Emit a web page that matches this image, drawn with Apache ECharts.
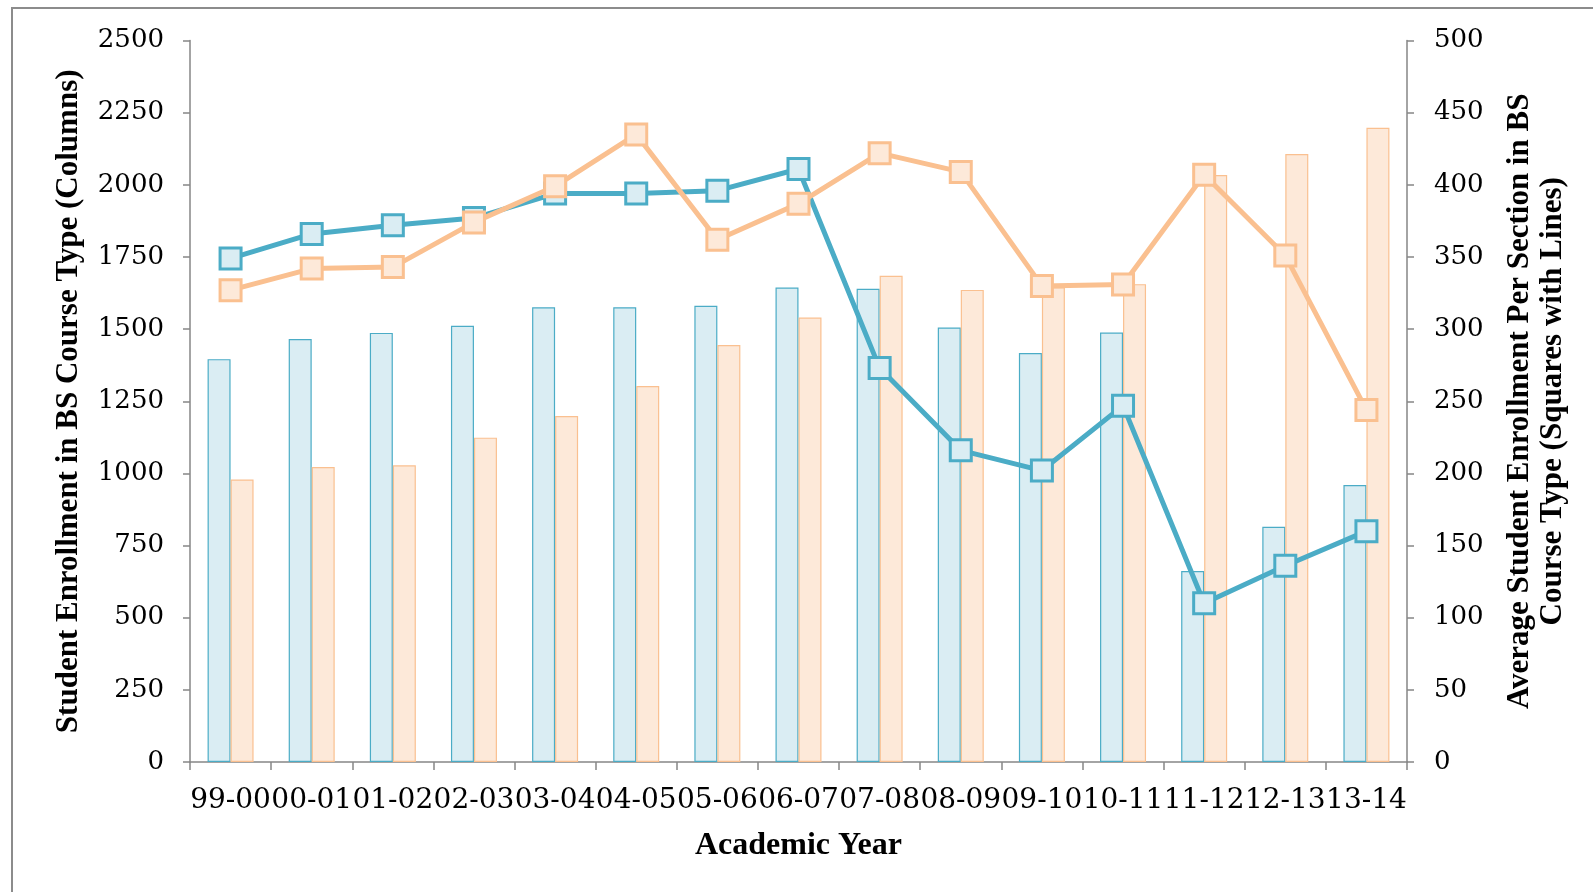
<!DOCTYPE html>
<html>
<head>
<meta charset="utf-8">
<script src="https://cdn.jsdelivr.net/npm/echarts@6/dist/echarts.min.js"></script>
<style>
  html, body { margin: 0; padding: 0; background: #fff; }
  #chart { width: 1593px; height: 892px; }
</style>
</head>
<body>
<div id="chart"></div>
<script>
// Academic years on the category axis
const years = ['99-00', '00-01', '01-02', '02-03', '03-04', '04-05', '05-06', '06-07',
               '07-08', '08-09', '09-10', '10-11', '11-12', '12-13', '13-14'];

// Student enrollment per course type (columns, left axis)
const enrollBlue   = [1396, 1466, 1487, 1512, 1576, 1576, 1581, 1644, 1640, 1506, 1417, 1488, 662, 815, 960];
const enrollOrange = [979, 1022, 1028, 1124, 1199, 1303, 1445, 1540, 1685, 1636, 1645, 1656, 2034, 2107, 2198];

// Average enrollment per section (squares with lines, right axis)
const perSectionBlue   = [349, 366, 372, 377, 394, 394, 396, 411, 273, 216, 202, 247, 110, 136, 160];
const perSectionOrange = [327, 342, 343, 374, 399, 435, 362, 387, 422, 409, 330, 331, 407, 351, 244];

// Axis scales
const leftMax = 2500, leftStep = 250;
const rightMax = 500, rightStep = 50;

const blueLine = '#4bacc6', blueFill = '#daedf3';
const orangeLine = '#fac090', orangeFill = '#fde9d9';
const axisGray = '#868686';
const serif = '"DejaVu Serif", "Liberation Serif", serif';
const titleFont = '"Liberation Serif", "DejaVu Serif", serif';

const plain = v => String(v);

const chart = echarts.init(document.getElementById('chart'), null, { renderer: 'canvas' });

chart.setOption({
  backgroundColor: '#ffffff',
  animation: false,
  graphic: [{
    type: 'rect',
    shape: { x: 12, y: 8, width: 1620, height: 920 },
    style: { fill: 'none', stroke: '#8c8c8c', lineWidth: 2 },
    z: 0
  }],
  grid: { left: 190, right: 186, top: 40.6, bottom: 130, containLabel: false },
  xAxis: {
    type: 'category',
    data: years,
    boundaryGap: true,
    name: 'Academic Year',
    nameLocation: 'middle',
    nameGap: 68,
    nameTextStyle: { fontFamily: titleFont, fontWeight: 'bold', fontSize: 32, color: '#000' },
    axisLine: { lineStyle: { color: axisGray, width: 1.5 } },
    axisTick: { show: true, alignWithLabel: false, length: 8, lineStyle: { color: axisGray, width: 1.5 } },
    axisLabel: { interval: 0, margin: 25, fontFamily: serif, fontSize: 28, color: '#000' }
  },
  yAxis: [{
    type: 'value',
    min: 0, max: leftMax, interval: leftStep,
    position: 'left',
    name: 'Student Enrollment in BS Course Type (Columns)',
    nameLocation: 'middle',
    nameRotate: 90,
    nameGap: 106,
    nameTextStyle: { fontFamily: titleFont, fontWeight: 'bold', fontSize: 31, color: '#000' },
    splitLine: { show: false },
    axisLine: { show: true, lineStyle: { color: axisGray, width: 1.5 } },
    axisTick: { show: true, length: 7, lineStyle: { color: axisGray, width: 1.5 } },
    axisLabel: { margin: 26, formatter: plain, fontFamily: serif, fontSize: 26, color: '#000' }
  }, {
    type: 'value',
    min: 0, max: rightMax, interval: rightStep,
    position: 'right',
    name: 'Average Student Enrollment Per Section in BS\nCourse Type (Squares with Lines)',
    nameLocation: 'middle',
    nameRotate: 90,
    nameGap: 96,
    nameTextStyle: { fontFamily: titleFont, fontWeight: 'bold', fontSize: 31, lineHeight: 33, color: '#000', align: 'center' },
    splitLine: { show: false },
    axisLine: { show: true, lineStyle: { color: axisGray, width: 1.5 } },
    axisTick: { show: true, length: 7, lineStyle: { color: axisGray, width: 1.5 } },
    axisLabel: { margin: 27, formatter: plain, fontFamily: serif, fontSize: 26, color: '#000' }
  }],
  series: [{
    name: 'Enrollment type 1',
    type: 'bar',
    yAxisIndex: 0,
    data: enrollBlue,
    barWidth: 23,
    barGap: '0%',
    itemStyle: { color: blueFill, borderColor: blueLine, borderWidth: 1.2 },
    z: 2
  }, {
    name: 'Enrollment type 2',
    type: 'bar',
    yAxisIndex: 0,
    data: enrollOrange,
    barWidth: 23,
    barGap: '0%',
    itemStyle: { color: orangeFill, borderColor: orangeLine, borderWidth: 1.2 },
    z: 2
  }, {
    name: 'Per section type 1',
    type: 'line',
    yAxisIndex: 1,
    data: perSectionBlue,
    symbol: 'rect',
    symbolSize: 21,
    lineStyle: { color: blueLine, width: 5 },
    itemStyle: { color: blueFill, borderColor: blueLine, borderWidth: 3 },
    z: 3
  }, {
    name: 'Per section type 2',
    type: 'line',
    yAxisIndex: 1,
    data: perSectionOrange,
    symbol: 'rect',
    symbolSize: 21,
    lineStyle: { color: orangeLine, width: 5 },
    itemStyle: { color: orangeFill, borderColor: orangeLine, borderWidth: 3 },
    z: 4
  }]
});
</script>
</body>
</html>
